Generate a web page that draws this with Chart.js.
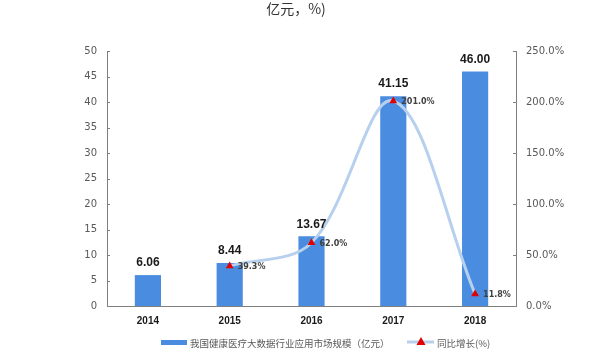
<!DOCTYPE html>
<html lang="zh-CN">
<head>
  <meta charset="UTF-8">
  <title>健康医疗大数据市场规模</title>
  <script src="https://cdn.jsdelivr.net/npm/chart.js"></script>
  <style>
    body { margin: 0; background: #ffffff; }
    #box { width: 594px; height: 364px; position: relative; }
  </style>
</head>
<body>
  <div id="box">
    <canvas id="grafico" width="594" height="364"></canvas>
  </div>

  <script>
    // dados
    const anos = ['2014', '2015', '2016', '2017', '2018'];
    const mercado = [6.06, 8.44, 13.67, 41.15, 46.00];
    const crescimento = [null, 39.3, 62.0, 201.0, 11.8];
    const ticksEsq = [0, 5, 10, 15, 20, 25, 30, 35, 40, 45, 50];
    const ticksDir = [0, 50, 100, 150, 200, 250];

    const nomeBarra = '我国健康医疗大数据行业应用市场规模（亿元）';
    const nomeLinha = '同比增长(%)';
    const tituloTxt = '亿元，%)';

    const azul = '#4a8de0';
    const azulClaro = '#b7d0ee';
    const vermelho = '#e00000';
    const cinza = '#595959';
    const fonte = '"Noto Sans CJK SC", "DejaVu Sans", sans-serif';

    // rótulos, título, legenda e marcas internas dos eixos
    const extras = {
      id: 'extras',
      afterDatasetsDraw(chart) {
        const ctx = chart.ctx;
        const area = chart.chartArea;
        ctx.save();

        // marcas dos eixos voltadas para dentro
        ctx.strokeStyle = '#7f7f7f';
        ctx.lineWidth = 1;
        ctx.beginPath();
        ticksEsq.forEach(v => {
          const y = Math.round(chart.scales.y.getPixelForValue(v)) + 0.5;
          ctx.moveTo(area.left, y);
          ctx.lineTo(area.left + 3, y);
        });
        ticksDir.forEach(v => {
          const y = Math.round(chart.scales.y1.getPixelForValue(v)) + 0.5;
          ctx.moveTo(area.right, y);
          ctx.lineTo(area.right - 3, y);
        });
        ctx.stroke();

        // valores das barras
        const barras = chart.getDatasetMeta(0);
        ctx.fillStyle = '#1a1a1a';
        ctx.font = 'bold 12px "Liberation Sans", sans-serif';
        ctx.textAlign = 'center';
        ctx.textBaseline = 'bottom';
        barras.data.forEach((b, i) => {
          ctx.fillText(mercado[i].toFixed(2), b.x, b.y - 6);
        });

        // percentuais da linha
        const linha = chart.getDatasetMeta(1);
        ctx.fillStyle = '#404040';
        ctx.font = 'bold 8px "DejaVu Sans", sans-serif';
        ctx.textAlign = 'left';
        ctx.textBaseline = 'middle';
        linha.data.forEach((p, i) => {
          if (crescimento[i] === null) return;
          ctx.fillText(crescimento[i].toFixed(1) + '%', p.x + 8, p.y + 1);
        });

        // título (segunda linha, cortada)
        ctx.fillStyle = '#333333';
        ctx.font = '14px ' + fonte;
        ctx.textAlign = 'center';
        ctx.fillText(tituloTxt, 296, 9);

        // legenda
        ctx.fillStyle = azul;
        ctx.fillRect(161, 340, 26, 5);
        ctx.fillStyle = cinza;
        ctx.font = '9.5px ' + fonte;
        ctx.textAlign = 'left';
        ctx.fillText(nomeBarra, 190, 343);

        ctx.strokeStyle = azulClaro;
        ctx.lineWidth = 3;
        ctx.beginPath();
        ctx.moveTo(407, 342);
        ctx.lineTo(434, 342);
        ctx.stroke();
        ctx.fillStyle = vermelho;
        ctx.beginPath();
        ctx.moveTo(421, 337);
        ctx.lineTo(425.5, 345);
        ctx.lineTo(416.5, 345);
        ctx.closePath();
        ctx.fill();
        ctx.fillStyle = cinza;
        ctx.fillText(nomeLinha, 437, 343);

        ctx.restore();
      }
    };

    const ctx = document.getElementById('grafico').getContext('2d');

    new Chart(ctx, {
      data: {
        labels: anos,
        datasets: [
          {
            type: 'bar',
            label: nomeBarra,
            data: mercado,
            backgroundColor: azul,
            yAxisID: 'y',
            barPercentage: 0.64,
            categoryPercentage: 0.5,
            order: 2
          },
          {
            type: 'line',
            label: nomeLinha,
            data: crescimento,
            yAxisID: 'y1',
            borderColor: azulClaro,
            borderWidth: 3,
            tension: 0.35,
            pointStyle: 'triangle',
            pointRadius: 4.5,
            pointBackgroundColor: vermelho,
            pointBorderColor: vermelho,
            pointBorderWidth: 0,
            order: 1
          }
        ]
      },
      options: {
        responsive: false,
        animation: false,
        layout: { padding: { top: 51, bottom: 30, left: 0, right: 0 } },
        plugins: {
          legend: { display: false },
          tooltip: { enabled: false }
        },
        scales: {
          x: {
            grid: { display: false, drawTicks: false },
            border: { color: '#7f7f7f' },
            ticks: {
              color: '#1a1a1a',
              font: { size: 10, weight: 'bold', family: '"Liberation Sans", sans-serif' },
              padding: 9
            },
            afterFit(scale) { scale.height = 28; }
          },
          y: {
            position: 'left',
            min: 0,
            max: 50,
            afterBuildTicks(scale) { scale.ticks = ticksEsq.map(v => ({ value: v })); },
            grid: { display: false, drawTicks: false },
            border: { color: '#7f7f7f' },
            ticks: {
              color: cinza,
              font: { size: 10, family: '"DejaVu Sans", sans-serif' },
              padding: 10
            },
            afterFit(scale) { scale.width = 107; }
          },
          y1: {
            position: 'right',
            min: 0,
            max: 250,
            afterBuildTicks(scale) { scale.ticks = ticksDir.map(v => ({ value: v })); },
            grid: { display: false, drawTicks: false },
            border: { color: '#7f7f7f' },
            ticks: {
              color: cinza,
              font: { size: 10, family: '"DejaVu Sans", sans-serif' },
              padding: 10,
              callback: v => v.toFixed(1) + '%'
            },
            afterFit(scale) { scale.width = 78; }
          }
        }
      },
      plugins: [extras]
    });
  </script>
</body>
</html>
